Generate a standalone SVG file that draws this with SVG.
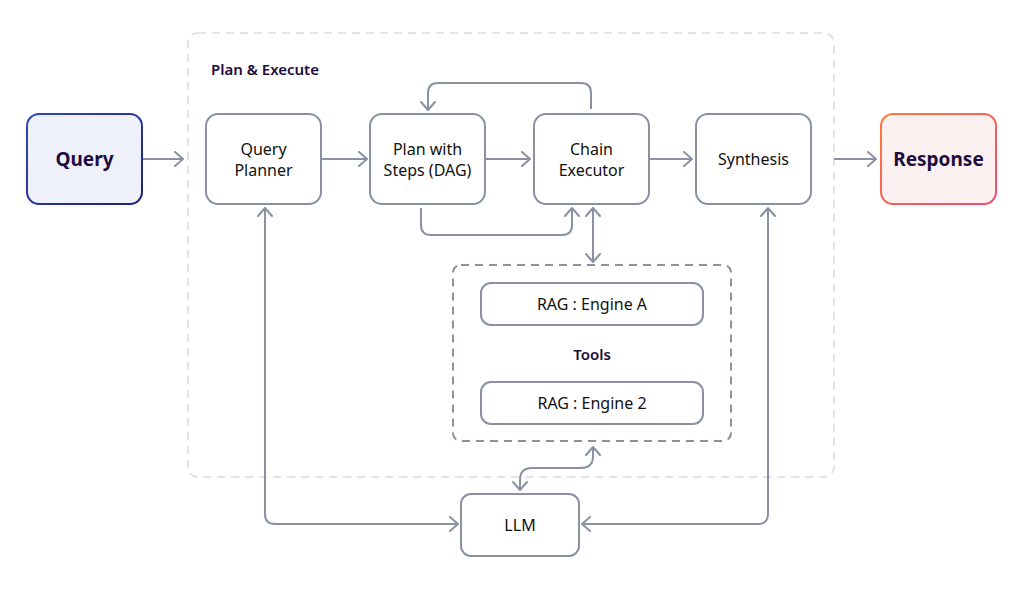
<svg xmlns="http://www.w3.org/2000/svg" width="1024" height="590" viewBox="0 0 1024 590">
<style>
  .node { fill: #ffffff; stroke: #8a91a3; stroke-width: 2; }
  .lbl { font-family: "Noto Sans", "Liberation Sans", sans-serif; font-size: 16px; fill: #111111; text-anchor: middle; }
  .big { font-family: "Noto Sans", "Liberation Sans", sans-serif; font-size: 19px; font-weight: 700; fill: #1e0b3f; text-anchor: middle; }
  .grp { font-family: "Noto Sans", "Liberation Sans", sans-serif; font-size: 15px; font-weight: 600; fill: #1e0b3f; }
  .conn { fill: none; stroke: #8a91a3; stroke-width: 2; }
</style>
<defs>
  <marker id="arr" markerUnits="userSpaceOnUse" markerWidth="14" markerHeight="16" refX="10" refY="8" orient="auto-start-reverse">
    <path d="M2,1 L10,8 L2,15" fill="none" stroke="#8a91a3" stroke-width="2" stroke-linecap="round" stroke-linejoin="round"/>
  </marker>
  <linearGradient id="qg" x1="0" y1="0" x2="1" y2="1">
    <stop offset="0" stop-color="#3346b8"/>
    <stop offset="1" stop-color="#1a237e"/>
  </linearGradient>
  <linearGradient id="rg" x1="0" y1="0" x2="1" y2="1">
    <stop offset="0" stop-color="#ff7a3a"/>
    <stop offset="1" stop-color="#f04a70"/>
  </linearGradient>
</defs>

<g id="plan-execute-group">
  <rect x="188" y="33" width="646" height="444" rx="10" fill="none" stroke="#e2e2e8" stroke-width="2" stroke-dasharray="8 6"/>
  <text class="grp" x="211" y="75">Plan &amp; Execute</text>
</g>

<g id="tools-group">
  <rect x="453" y="265" width="278" height="176" rx="8" fill="none" stroke="#8a91a3" stroke-width="2" stroke-dasharray="8 6"/>
  <text class="grp" x="592" y="360" text-anchor="middle">Tools</text>
</g>

<g id="connectors">
  <line class="conn" x1="142" y1="159" x2="183" y2="159" marker-end="url(#arr)"/>
  <line class="conn" x1="321" y1="159" x2="367" y2="159" marker-end="url(#arr)"/>
  <line class="conn" x1="485" y1="159" x2="530" y2="159" marker-end="url(#arr)"/>
  <line class="conn" x1="649" y1="159" x2="692" y2="159" marker-end="url(#arr)"/>
  <line class="conn" x1="834" y1="159" x2="876" y2="159" marker-end="url(#arr)"/>
  <path class="conn" d="M591,109 V93 Q591,83 581,83 H438 Q428,83 428,93 V110" marker-end="url(#arr)"/>
  <path class="conn" d="M421,208 V225 Q421,235 431,235 H562 Q572,235 572,225 V208" marker-end="url(#arr)"/>
  <line class="conn" x1="593" y1="208" x2="593" y2="262" marker-start="url(#arr)" marker-end="url(#arr)"/>
  <path class="conn" d="M265,208 V514 Q265,524 275,524 H458" marker-start="url(#arr)" marker-end="url(#arr)"/>
  <path class="conn" d="M768,208 V514 Q768,524 758,524 H582" marker-start="url(#arr)" marker-end="url(#arr)"/>
  <path class="conn" d="M520,490 V480 Q520,468 532,468 H581 Q593,468 593,456 V447" marker-start="url(#arr)" marker-end="url(#arr)"/>
</g>

<g id="query">
  <rect x="27" y="114" width="115" height="90" rx="12" fill="#eff1fa" stroke="url(#qg)" stroke-width="2"/>
  <text class="big" x="84.5" y="166">Query</text>
</g>
<g id="query-planner">
  <rect class="node" x="206" y="114" width="115" height="90" rx="12"/>
  <text class="lbl" x="263.5" y="155">Query</text>
  <text class="lbl" x="263.5" y="176">Planner</text>
</g>
<g id="plan-steps">
  <rect class="node" x="370" y="114" width="115" height="90" rx="12"/>
  <text class="lbl" x="427.5" y="155">Plan with</text>
  <text class="lbl" x="427.5" y="176">Steps (DAG)</text>
</g>
<g id="chain-executor">
  <rect class="node" x="534" y="114" width="115" height="90" rx="12"/>
  <text class="lbl" x="591.5" y="155">Chain</text>
  <text class="lbl" x="591.5" y="176">Executor</text>
</g>
<g id="synthesis">
  <rect class="node" x="696" y="114" width="115" height="90" rx="12"/>
  <text class="lbl" x="753.5" y="165">Synthesis</text>
</g>
<g id="response">
  <rect x="881" y="114" width="115" height="90" rx="12" fill="#fdf0f0" stroke="url(#rg)" stroke-width="2"/>
  <text class="big" x="938.5" y="166">Response</text>
</g>
<g id="rag-a">
  <rect class="node" x="481" y="283" width="222" height="42" rx="10"/>
  <text class="lbl" x="592" y="310">RAG : Engine A</text>
</g>
<g id="rag-2">
  <rect class="node" x="481" y="382" width="222" height="42" rx="10"/>
  <text class="lbl" x="592" y="409">RAG : Engine 2</text>
</g>
<g id="llm">
  <rect class="node" x="461" y="494" width="118" height="62" rx="10"/>
  <text class="lbl" x="520" y="531">LLM</text>
</g>
</svg>
